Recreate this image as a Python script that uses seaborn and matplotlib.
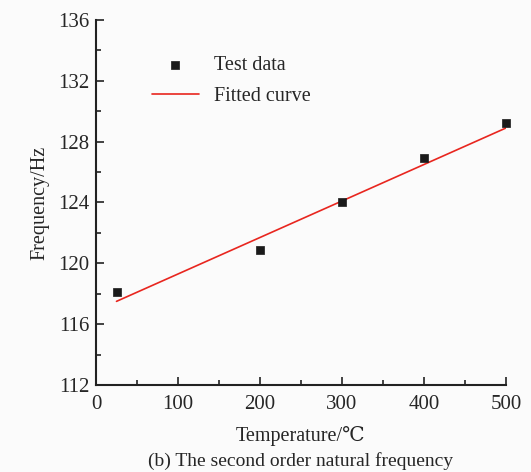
import matplotlib
matplotlib.use("Agg")
import matplotlib.pyplot as plt
import seaborn as sns
import pandas as pd
from matplotlib.ticker import MultipleLocator

temperature = [25, 200, 300, 400, 500]
test_freq = [118.1, 120.9, 124.0, 126.9, 129.2]
fit_temp = [25, 100, 200, 300, 400, 500]
fit_freq = [117.5, 119.3, 121.7, 124.1, 126.5, 128.9]

sns.set_style("ticks")
plt.rcParams['font.family'] = ['Liberation Serif', 'DejaVu Serif', 'DejaVu Sans']

bg = '#fbfbfb'
fig = plt.figure(figsize=(5.31, 4.72), dpi=100, facecolor=bg)
ax = fig.add_axes([96/531, 1-385/472, 410/531, 365/472], facecolor=bg)

df_test = pd.DataFrame({'T': temperature, 'F': test_freq})
df_fit = pd.DataFrame({'T': fit_temp, 'F': fit_freq})

sns.lineplot(data=df_fit, x='T', y='F', ax=ax, color='#e8261f', linewidth=1.2,
             label='Fitted curve', zorder=2)
sns.scatterplot(data=df_test, x='T', y='F', ax=ax, marker='s', s=40, color='#1a1a1a',
                edgecolor='#1a1a1a', linewidth=0.5, label='Test data', zorder=3,
                clip_on=False)

ax.set_xlim(0, 500)
ax.set_ylim(112, 136)
ax.xaxis.set_major_locator(MultipleLocator(100))
ax.xaxis.set_minor_locator(MultipleLocator(50))
ax.yaxis.set_major_locator(MultipleLocator(4))
ax.yaxis.set_minor_locator(MultipleLocator(2))
ax.tick_params(which='major', direction='in', length=6, width=1.2, labelsize=15, color='#222222')
ax.tick_params(axis='x', which='major', pad=7)
ax.tick_params(axis='y', which='major', pad=5)
ax.tick_params(which='minor', direction='in', length=3.5, width=1.2, color='#222222')
for s in ['top', 'right']:
    ax.spines[s].set_visible(False)
for s in ['left', 'bottom']:
    ax.spines[s].set_linewidth(1.5)
    ax.spines[s].set_color('#222222')

ax.set_xlabel('Temperature/℃', fontsize=14.5, labelpad=9)
ax.set_ylabel('Frequency/Hz', fontsize=14.5, labelpad=6)

handles, labels = ax.get_legend_handles_labels()
order = [labels.index('Test data'), labels.index('Fitted curve')]
ax.legend([handles[i] for i in order], [labels[i] for i in order], frameon=False,
          fontsize=14.5, loc='upper left', bbox_to_anchor=(0.093, 0.951),
          handlelength=2.3, handletextpad=0.75, labelspacing=0.6)

fig.text(301/531, 1-461/472, '(b) The second order natural frequency', ha='center', va='center', fontsize=14)

fig.savefig('out.png', dpi=100, facecolor=bg)
